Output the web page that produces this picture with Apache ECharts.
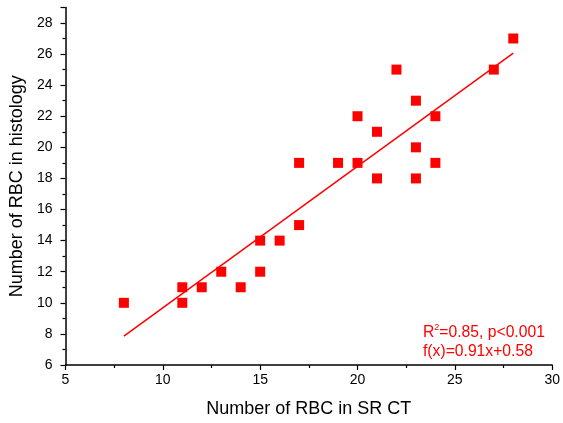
<!DOCTYPE html>
<html><head><meta charset="utf-8">
<script src="https://cdn.jsdelivr.net/npm/echarts@6/dist/echarts.min.js"></script>
<style>html,body{margin:0;padding:0;background:#fff}#c{width:563px;height:423px}</style>
</head><body><div id="c"></div>
<script>
const srCT =      [8, 11, 11, 12, 13, 14, 15, 15, 16, 17, 17, 19, 20, 20, 21, 21, 22, 23, 23, 23, 24, 24, 27, 28];
const histology = [10, 11, 10, 11, 12, 11, 14, 12, 14, 19, 15, 19, 22, 19, 21, 18, 25, 23, 20, 18, 22, 19, 25, 27];
const fitX = [8, 28];
const fitY = [7.86, 26.06];
const xTicks = [5, 10, 15, 20, 25, 30];
const yTicks = [6, 8, 10, 12, 14, 16, 18, 20, 22, 24, 26, 28];

const font = 'Liberation Sans, Arial, sans-serif';
const chart = echarts.init(document.getElementById('c'), null, {renderer: 'canvas'});
const axisCommon = {
  axisLine: {show: true, onZero: false, lineStyle: {color: '#000', width: 1.5}},
  axisTick: {show: true, inside: false, length: 5, lineStyle: {color: '#000', width: 1.2}},
  minorTick: {show: true, splitNumber: 2, length: 3, lineStyle: {color: '#000', width: 1.2}},
  splitLine: {show: false},
  axisLabel: {color: '#000', fontFamily: font, fontSize: 14},
  nameTextStyle: {color: '#000', fontFamily: font, fontSize: 18}
};
chart.setOption({
  animation: false,
  grid: {left: 65, right: 8.7, top: 7.4, bottom: 56, containLabel: false},
  xAxis: Object.assign({}, axisCommon, {
    type: 'value', min: xTicks[0], max: xTicks[xTicks.length - 1], interval: 5,
    name: 'Number of RBC in SR CT', nameLocation: 'middle', nameGap: 35,
    axisLabel: Object.assign({}, axisCommon.axisLabel, {margin: 8})
  }),
  yAxis: Object.assign({}, axisCommon, {
    type: 'value', min: yTicks[0], max: 29, interval: 2,
    name: 'Number of RBC in histology', nameLocation: 'middle', nameGap: 36,
    axisLabel: Object.assign({}, axisCommon.axisLabel, {margin: 13, showMaxLabel: false,
      formatter: v => yTicks.includes(v) ? String(v) : ''})
  }),
  series: [
    {
      type: 'line', data: fitX.map((x, i) => [x, fitY[i]]), showSymbol: false, symbol: 'none',
      lineStyle: {color: '#ff0000', width: 1.5}, z: 2
    },
    {
      type: 'scatter', data: srCT.map((x, i) => [x, histology[i]]),
      symbol: 'rect', symbolSize: 10, itemStyle: {color: '#ff0000', opacity: 1}, z: 3
    }
  ],
  graphic: [{
    type: 'text', left: 423, top: 323,
    style: {
      text: 'R{sup|2}=0.85, p<0.001\nf(x)=0.91x+0.58',
      fill: '#ff0000', font: '15.7px ' + font, lineHeight: 19,
      rich: {sup: {fontSize: 9, verticalAlign: 'top', fill: '#ff0000', fontFamily: font, padding: [0,0,7,0]}}
    }
  }]
});
</script></body></html>
